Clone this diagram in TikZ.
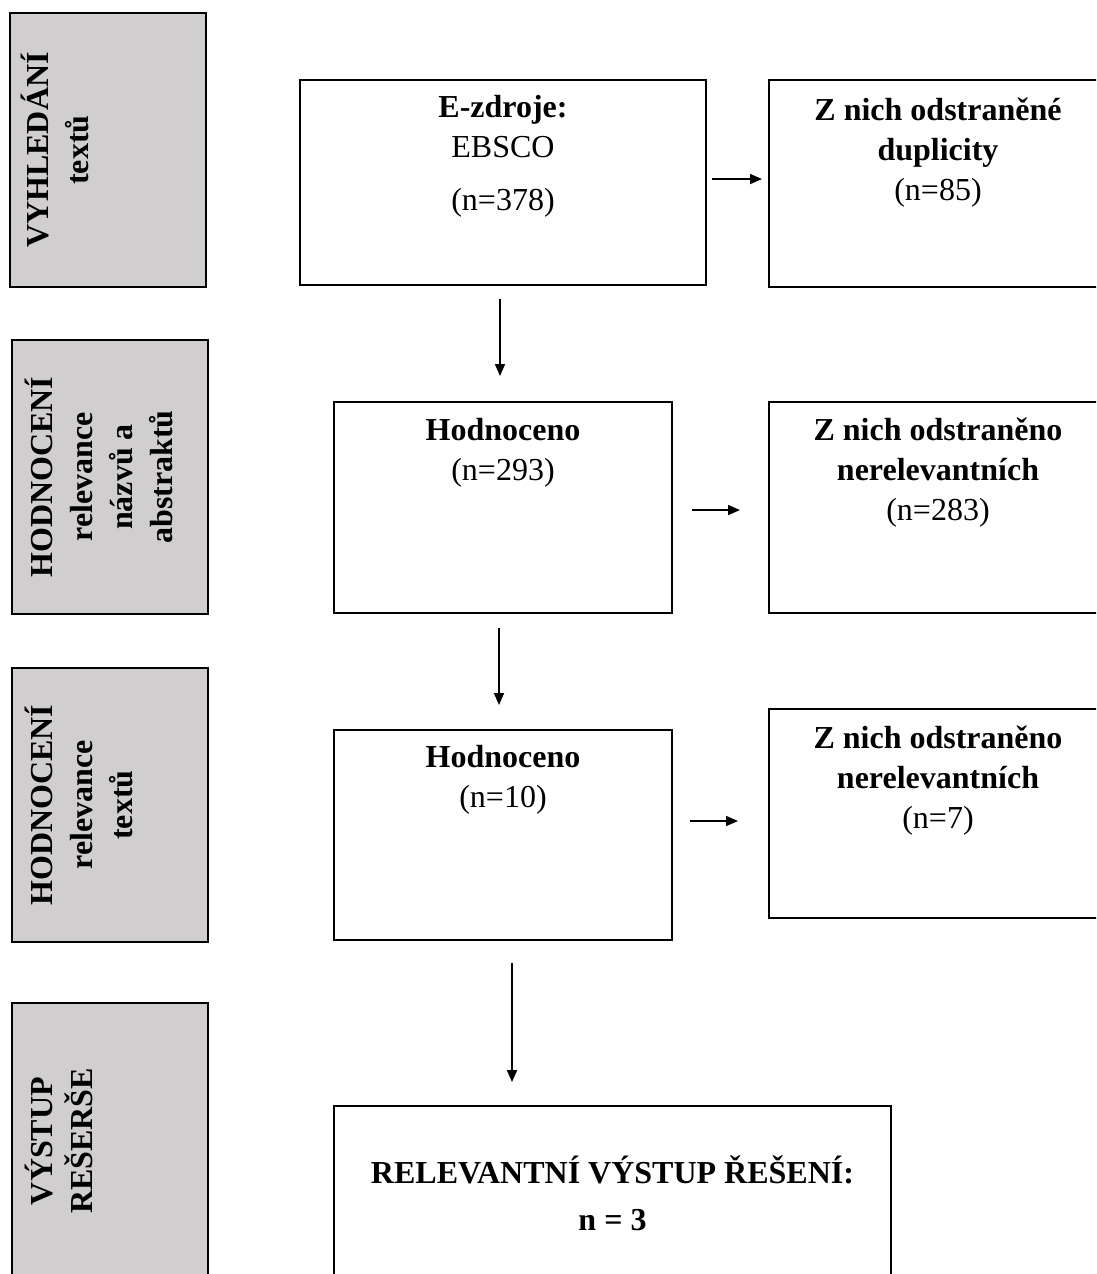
\documentclass[tikz,border=0pt]{standalone}
\usepackage{fontspec}
\setmainfont{Liberation Serif}
\usetikzlibrary{arrows.meta,calc}
\definecolor{phase}{HTML}{D0CECE}
\begin{document}
\begin{tikzpicture}[x=0.75pt,y=-0.75pt,
  frame/.style={draw=black, line width=1.5pt, inner sep=0pt, outer sep=0pt},
  phasebox/.style={frame, fill=phase},
  sz/.style 2 args={minimum width=#1*0.75pt, minimum height=#2*0.75pt},
  txt/.style={inner sep=0pt, align=center, anchor=base, font=\fontsize{24pt}{30pt}\selectfont},
  vtxt/.style={txt, rotate=90, font=\fontsize{24pt}{30pt}\selectfont\bfseries},
  arr/.style={line width=1.2pt, -{Triangle[length=9pt,width=7.5pt]}}]
\useasboundingbox (0,0) rectangle (1096,1274);
\clip (0,0) rectangle (1096,1274);
% phase boxes
\node[phasebox, sz={196}{274}] (g1) at (108,150) {};
\node[phasebox, sz={196}{274}] (g2) at (110,477) {};
\node[phasebox, sz={196}{274}] (g3) at (110,805) {};
\node[phasebox, sz={196}{274}] (g4) at (110,1140) {};
\node[vtxt] (t1) at (88,150) {VYHLEDÁNÍ\\textů};
\node[vtxt] (t2) at (172,477) {HODNOCENÍ\\relevance\\názvů a\\abstraktů};
\node[vtxt] (t3) at (132,805) {HODNOCENÍ\\relevance\\textů};
\node[vtxt] (t4) at (92,1141) {VÝSTUP\\REŠERŠE};
% flow boxes
\node[frame, sz={406}{205}] (e) at (503,182.5) {};
\node[frame, sz={338}{207}] (dup) at (938,183.5) {};
\node[frame, sz={338}{211}] (h1) at (503,507.5) {};
\node[frame, sz={338}{211}] (r1) at (938,507.5) {};
\node[frame, sz={338}{210}] (h2) at (503,835) {};
\node[frame, sz={338}{209}] (r2) at (938,813.5) {};
\node[frame, sz={557}{194}] (fin) at (612.5,1203) {};
% texts
\node[txt] (te) at (503,210) {\textbf{E-zdroje:}\\EBSCO\\[9.75pt](n=378)};
\node[txt] (tdup) at (938,200) {\textbf{Z nich odstraněné}\\\textbf{duplicity}\\(n=85)};
\node[txt] (th1) at (503,480) {\textbf{Hodnoceno}\\(n=293)};
\node[txt] (tr1) at (938,520) {\textbf{Z nich odstraněno}\\\textbf{nerelevantních}\\(n=283)};
\node[txt] (th2) at (503,807) {\textbf{Hodnoceno}\\(n=10)};
\node[txt] (tr2) at (938,828) {\textbf{Z nich odstraněno}\\\textbf{nerelevantních}\\(n=7)};
\node[txt] (tfin) at (612.5,1230) {\textbf{RELEVANTNÍ VÝSTUP ŘEŠENÍ:}\\[5pt]\textbf{n = 3}};
% connectors
\draw[arr, shorten <=4.5pt, shorten >=5.25pt] ([yshift=2.6pt]e.east) -- ([yshift=2.6pt]e.east -| dup.west);
\draw[arr, shorten <=10.5pt, shorten >=19.5pt] ([xshift=-2.25pt]e.south) -- ([xshift=-2.25pt]e.south |- h1.north);
\draw[arr, shorten <=15pt, shorten >=21.75pt] ([yshift=-1.9pt]h1.east) -- ([yshift=-1.9pt]h1.east -| r1.west);
\draw[arr, shorten <=11.25pt, shorten >=18.75pt] ([xshift=-3pt]h1.south) -- ([xshift=-3pt]h1.south |- h2.north);
\draw[arr, shorten <=13.5pt, shorten >=23.25pt] ([yshift=10.5pt]h2.east) -- ([yshift=10.5pt]h2.east -| r2.west);
\draw[arr, shorten <=17.25pt, shorten >=18pt] ([xshift=6.75pt]h2.south) -- ([xshift=6.75pt]h2.south |- fin.north);
\end{tikzpicture}
\end{document}
